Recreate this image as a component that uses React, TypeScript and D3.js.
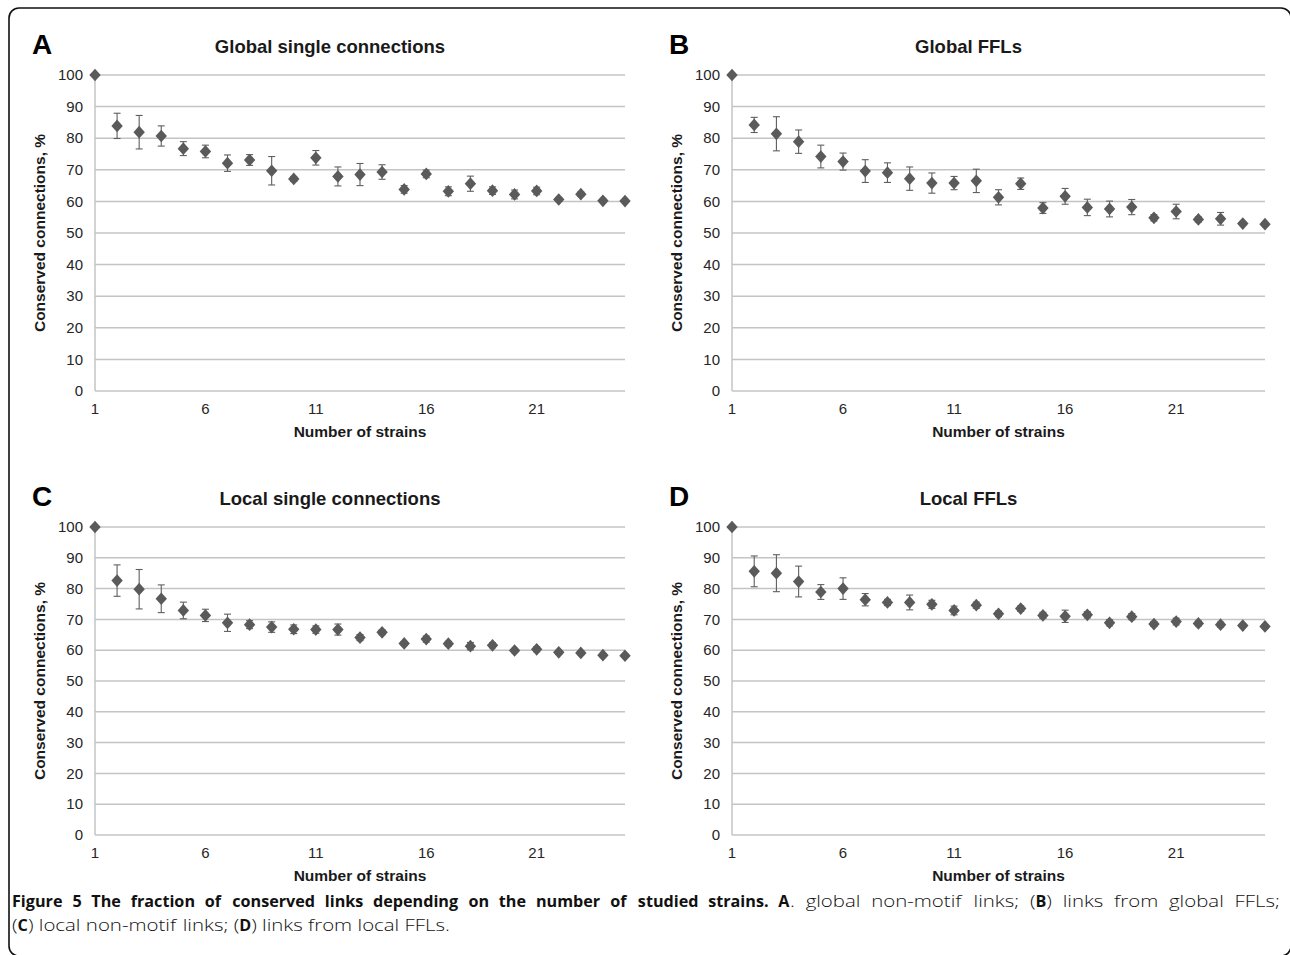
import React, { useLayoutEffect, useRef, useState } from "react";
import * as d3 from "d3";

// ---------- data ----------
const strains = [1, 2, 3, 4, 5, 6, 7, 8, 9, 10, 11, 12, 13, 14, 15, 16, 17, 18, 19, 20, 21, 22, 23, 24, 25];
const xTicks = [1, 6, 11, 16, 21];
const yTicks = [0, 10, 20, 30, 40, 50, 60, 70, 80, 90, 100];

const globalSingleMean = [100, 83.9, 81.9, 80.7, 76.7, 75.8, 72.1, 73.1, 69.7, 67.1, 73.8, 67.9, 68.5, 69.3, 63.8, 68.7, 63.2, 65.6, 63.4, 62.2, 63.3, 60.6, 62.3, 60.2, 60.1];
const globalSingleErr = [0, 4.0, 5.3, 3.2, 2.2, 2.0, 2.6, 1.7, 4.5, 0.8, 2.3, 3.0, 3.5, 2.3, 1.2, 1.2, 1.4, 2.4, 1.2, 1.4, 1.2, 0.5, 0.7, 0.5, 0.3];

const globalFflMean = [100, 84.2, 81.4, 78.9, 74.2, 72.6, 69.6, 69.1, 67.2, 65.8, 65.8, 66.5, 61.3, 65.6, 57.9, 61.6, 58.1, 57.6, 58.2, 54.8, 56.8, 54.3, 54.5, 53.0, 52.8];
const globalFflErr = [0, 2.4, 5.4, 3.7, 3.6, 2.7, 3.6, 3.1, 3.7, 3.2, 2.1, 3.7, 2.4, 1.8, 1.7, 2.5, 2.6, 2.5, 2.4, 1.0, 2.3, 0.8, 2.0, 0.6, 0.5];

const localSingleMean = [100, 82.6, 79.8, 76.7, 72.9, 71.3, 68.9, 68.3, 67.5, 66.8, 66.7, 66.7, 64.1, 65.8, 62.2, 63.6, 62.1, 61.3, 61.6, 59.9, 60.3, 59.3, 59.1, 58.4, 58.2];
const localSingleErr = [0, 5.1, 6.4, 4.5, 2.7, 2.0, 2.8, 1.3, 1.7, 1.4, 1.2, 1.8, 1.0, 0.8, 0.6, 1.0, 0.8, 1.2, 0.8, 0.7, 0.8, 0.6, 0.6, 0.5, 0.5];

const localFflMean = [100, 85.6, 85.0, 82.3, 78.9, 80.0, 76.4, 75.5, 75.5, 74.9, 72.9, 74.6, 71.8, 73.5, 71.3, 71.0, 71.5, 68.9, 70.9, 68.5, 69.3, 68.7, 68.3, 68.0, 67.7];
const localFflErr = [0, 5.0, 6.0, 5.0, 2.4, 3.5, 2.0, 1.0, 2.4, 1.3, 1.4, 1.0, 0.9, 0.9, 1.0, 2.0, 1.0, 1.0, 1.0, 0.8, 1.1, 0.8, 0.8, 0.6, 0.5];

const panelLetters = ["A", "B", "C", "D"];
const panelTitles = ["Global single connections", "Global FFLs", "Local single connections", "Local FFLs"];
const xAxisTitle = "Number of strains";
const yAxisTitle = "Conserved connections, %";

// caption pieces: [text, bold]
const captionLine1: [string, boolean][] = [
  ["Figure 5 The fraction of conserved links depending on the number of studied strains. A", true],
  [". global non-motif links; (", false],
  ["B", true],
  [") links from global FFLs;", false],
];
const captionLine2: [string, boolean][] = [
  ["(", false],
  ["C", true],
  [") local non-motif links; (", false],
  ["D", true],
  [") links from local FFLs.", false],
];

// ---------- layout ----------
const W = 1290;
const H = 955;
const layout = [
  { left: 95, right: 625, top: 75, bottom: 391 },
  { left: 732, right: 1265, top: 75, bottom: 391 },
  { left: 95, right: 625, top: 527, bottom: 835 },
  { left: 732, right: 1265, top: 527, bottom: 835 },
];
const series = [
  [globalSingleMean, globalSingleErr],
  [globalFflMean, globalFflErr],
  [localSingleMean, localSingleErr],
  [localFflMean, localFflErr],
];

const FONT = "'Liberation Sans', Arial, sans-serif";
const CAPFONT = "'Open Sans', 'Noto Sans', sans-serif";
const CAPSIZE = 16.5;
const MARK = "#5a5a5a";
const GRID = "#c4c4c4";

// caption geometry targets
const CAP_X0 = 12;
const CAP_X1 = 1280; // right edge of justified first line
const CAP_BOLD_END = 790; // end of bold lead-in on line 1
const CAP_LINE2_END = 450;
const CAP_Y = [907, 931];

const diamondType = {
  draw(ctx: any, size: number) {
    const r = Math.sqrt(size / 2);
    ctx.moveTo(0, -r * 1.06);
    ctx.lineTo(r * 0.95, 0);
    ctx.lineTo(0, r * 1.06);
    ctx.lineTo(-r * 0.95, 0);
    ctx.closePath();
  },
};
const diamondPath = d3.symbol().type(diamondType as any).size(72)() as string;

type Tok = { text: string; bold: boolean; space: boolean; line: number };
function tokenize(parts: [string, boolean][], line: number): Tok[] {
  const out: Tok[] = [];
  let pendingSpace = false;
  parts.forEach(([t, b]) => {
    const pieces = t.split(" ");
    pieces.forEach((p, j) => {
      if (j > 0) pendingSpace = true;
      if (p === "") return;
      out.push({ text: p, bold: b, space: pendingSpace, line });
      pendingSpace = false;
    });
  });
  return out;
}
const tokens: Tok[] = [...tokenize(captionLine1, 0), ...tokenize(captionLine2, 1)];
const boldLeadCount = tokenize([captionLine1[0]], 0).length;

function solve3(A: number[][], b: number[]) {
  const det = (m: number[][]) =>
    m[0][0] * (m[1][1] * m[2][2] - m[1][2] * m[2][1]) -
    m[0][1] * (m[1][0] * m[2][2] - m[1][2] * m[2][0]) +
    m[0][2] * (m[1][0] * m[2][1] - m[1][1] * m[2][0]);
  const D = det(A);
  return [0, 1, 2].map((c) => det(A.map((row, r) => row.map((v, k) => (k === c ? b[r] : v)))) / D);
}

function Caption() {
  const refs = useRef<(SVGTextElement | null)[]>([]);
  const [pos, setPos] = useState<{ x: number; s: number }[] | null>(null);
  useLayoutEffect(() => {
    const w = tokens.map((_, i) => refs.current[i]?.getBBox().width || 0);
    const spw = CAPSIZE * 0.26;
    let n2 = 0, b2 = 0;
    let wb1 = 0, k1 = 0;
    let nr = 0, br = 0, kr = 0;
    tokens.forEach((t, i) => {
      if (t.line === 1) {
        if (t.bold) b2 += w[i];
        else n2 += w[i];
        if (t.space) n2 += spw;
      } else if (i < boldLeadCount) {
        wb1 += w[i];
        if (t.space) { wb1 += spw; k1++; }
      } else {
        if (t.bold) br += w[i];
        else nr += w[i];
        if (t.space) { nr += spw; kr++; }
      }
    });
    const A = [
      [n2, b2, 0],
      [0, wb1, k1],
      [nr, br, kr],
    ];
    const bvec = [CAP_LINE2_END - CAP_X0, CAP_BOLD_END - CAP_X0, CAP_X1 - CAP_BOLD_END];
    let [sn, sb, e] = solve3(A, bvec);
    if (!(sn > 0.6 && sn < 1.4 && sb > 0.6 && sb < 1.4 && e > -3 && e < 12)) {
      const total = wb1 + nr + br;
      sn = sb = (CAP_X1 - CAP_X0) / total;
      e = 0;
    }
    const out: { x: number; s: number }[] = [];
    let cur = CAP_X0;
    let line = 0;
    tokens.forEach((t, i) => {
      if (t.line !== line) { line = t.line; cur = CAP_X0; }
      const s = t.bold ? sb : sn;
      if (t.space) cur += spw * s + (t.line === 0 ? e : 0);
      out.push({ x: cur, s });
      cur += w[i] * s;
    });
    setPos(out);
  }, []);
  return (
    <g>
      {tokens.map((t, i) => (
        <text
          key={i}
          ref={(el) => { refs.current[i] = el; }}
          transform={pos ? `translate(${pos[i].x},${CAP_Y[t.line]}) scale(${pos[i].s},1)` : `translate(0,${CAP_Y[t.line]})`}
          opacity={pos ? 1 : 0}
          fontFamily={CAPFONT}
          fontSize={CAPSIZE}
          fontWeight={t.bold ? "bold" : "300"}
          fill="#111"
        >
          {t.text}
        </text>
      ))}
    </g>
  );
}

function Panel({ idx }: { idx: number }) {
  const L = layout[idx];
  const [mean, err] = series[idx];
  const x = d3.scaleLinear().domain([1, 25]).range([L.left, L.right]);
  const y = d3.scaleLinear().domain([0, 100]).range([L.bottom, L.top]);
  const cx = (L.left + L.right) / 2;
  const cy = (L.top + L.bottom) / 2;
  const capW = 3.5;
  return (
    <g>
      <text x={L.left - 63} y={L.top - 21} fontFamily={FONT} fontWeight="bold" fontSize={28} fill="#000">
        {panelLetters[idx]}
      </text>
      <text x={cx - 30} y={L.top - 22} textAnchor="middle" fontFamily={FONT} fontWeight="bold" fontSize={18.5} fill="#1a1a1a">
        {panelTitles[idx]}
      </text>
      {yTicks.map((t) => (
        <line key={"g" + t} x1={L.left} x2={L.right} y1={y(t)} y2={y(t)} stroke={GRID} strokeWidth={1.5} />
      ))}
      <line x1={L.left} x2={L.left} y1={y(0)} y2={y(100)} stroke={GRID} strokeWidth={1.5} />
      {yTicks.map((t) => (
        <text key={"yl" + t} x={L.left - 12} y={y(t)} dy="0.35em" textAnchor="end" fontFamily={FONT} fontSize={15} fill="#262626">
          {t}
        </text>
      ))}
      {xTicks.map((t) => (
        <text key={"xl" + t} x={x(t)} y={y(0) + 18} dy="0.35em" textAnchor="middle" fontFamily={FONT} fontSize={15} fill="#262626">
          {t}
        </text>
      ))}
      <text x={cx} y={y(0) + 41} dy="0.35em" textAnchor="middle" fontFamily={FONT} fontWeight="bold" fontSize={15.5} fill="#1a1a1a">
        {xAxisTitle}
      </text>
      <text
        transform={`translate(${L.left - 55},${cy}) rotate(-90)`}
        dy="0.35em"
        textAnchor="middle"
        fontFamily={FONT}
        fontWeight="bold"
        fontSize={15.5}
        fill="#1a1a1a"
      >
        {yAxisTitle}
      </text>
      {strains.map((s, i) =>
        err[i] > 0 ? (
          <g key={"e" + s} stroke="#5f5f5f" strokeWidth={1.1}>
            <line x1={x(s)} x2={x(s)} y1={y(mean[i] - err[i])} y2={y(mean[i] + err[i])} />
            <line x1={x(s) - capW} x2={x(s) + capW} y1={y(mean[i] + err[i])} y2={y(mean[i] + err[i])} />
            <line x1={x(s) - capW} x2={x(s) + capW} y1={y(mean[i] - err[i])} y2={y(mean[i] - err[i])} />
          </g>
        ) : null
      )}
      {strains.map((s, i) => (
        <path key={"m" + s} d={diamondPath} transform={`translate(${x(s)},${y(mean[i])})`} fill={MARK} />
      ))}
    </g>
  );
}

export default function App() {
  return (
    <svg width={W} height={H} style={{ position: "absolute", left: 0, top: 0, background: "#fff" }}>
      <rect x={0} y={0} width={W} height={H} fill="#fff" />
      <rect x={9} y={8} width={1282} height={948} rx={10} ry={10} fill="none" stroke="#111" strokeWidth={1.6} />
      {[0, 1, 2, 3].map((i) => (
        <Panel key={i} idx={i} />
      ))}
      <Caption />
    </svg>
  );
}
